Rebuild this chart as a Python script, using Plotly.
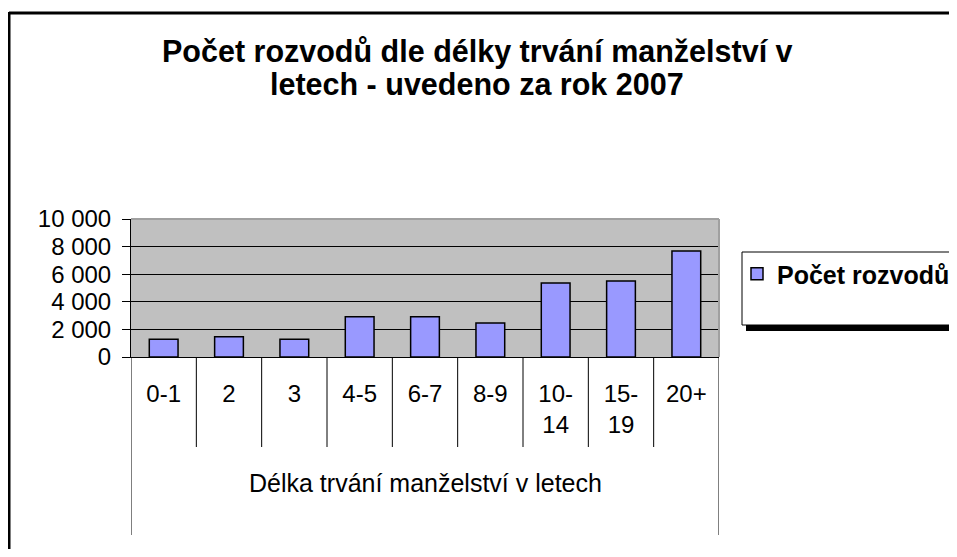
import plotly.graph_objects as go

categories = ["0-1", "2", "3", "4-5", "6-7", "8-9", "10-<br>14", "15-<br>19", "20+"]
divorces = [1280, 1470, 1280, 2920, 2920, 2460, 5360, 5500, 7680]
series_name = "Počet rozvodů"
title_lines = ["Počet rozvodů dle délky trvání manželství v", "letech - uvedeno za rok 2007"]
x_title = "Délka trvání manželství v letech"
y_ticks = [0, 2000, 4000, 6000, 8000, 10000]

FONT = "Liberation Sans, Arial, sans-serif"
OFF = 8  # page body margin
W, H = 957 - 2 * OFF, 557 - 2 * OFF
# target plot area in screenshot pixels: x 131..719, y 219..357
L, T = 131 - OFF, 219 - OFF
R, B = W - (719 - OFF), H - (357 - OFF)
PW, PH = W - L - R, H - T - B

def px(xs):
    return (xs - OFF - L) / PW

def py(ys):
    return (H - B - (ys - OFF)) / PH

fig = go.Figure()
fig.add_trace(go.Bar(
    x=list(range(len(categories))), y=divorces, name=series_name,
    marker=dict(color="#9999FF", line=dict(color="black", width=1.5)),
    showlegend=True,
))

shapes = []
# chart frame (left and top edges; the rest lies outside the picture)
shapes.append(dict(type="line", xref="paper", yref="paper",
                   x0=px(9), x1=px(1000), y0=py(13), y1=py(13),
                   line=dict(color="black", width=3), layer="below"))
shapes.append(dict(type="line", xref="paper", yref="paper",
                   x0=px(9), x1=px(9), y0=py(12), y1=py(600),
                   line=dict(color="black", width=3), layer="below"))
# plot area top/right border (gray)
shapes.append(dict(type="line", xref="paper", yref="paper", x0=0, x1=1, y0=1, y1=1,
                   line=dict(color="#A0A0A0", width=2)))
shapes.append(dict(type="line", xref="paper", yref="paper", x0=1, x1=1, y0=0, y1=1,
                   line=dict(color="#A0A0A0", width=2)))
# category boundary lines of the multi-level axis
n = len(categories)
for i in range(n + 1):
    outer = i == 0 or i == n
    shapes.append(dict(type="line", xref="x", yref="paper", x0=i - 0.5, x1=i - 0.5,
                       y0=0, y1=py(535) if outer else py(447),
                       line=dict(color="black", width=1)))
# legend box + shadow
shapes.append(dict(type="rect", xref="paper", yref="paper",
                   x0=px(746), x1=px(1000), y0=py(325), y1=py(331),
                   line=dict(width=0), fillcolor="black"))
shapes.append(dict(type="rect", xref="paper", yref="paper",
                   x0=px(742), x1=px(1000), y0=py(252), y1=py(325),
                   line=dict(color="black", width=1), fillcolor="white"))

annotations = [
    dict(text="<b>%s</b>" % title_lines[0], xref="paper", yref="paper", x=px(477), y=py(51),
         xanchor="center", yanchor="middle", showarrow=False,
         font=dict(family=FONT, size=30.5, color="black")),
    dict(text="<b>%s</b>" % title_lines[1], xref="paper", yref="paper", x=px(477), y=py(84),
         xanchor="center", yanchor="middle", showarrow=False,
         font=dict(family=FONT, size=30.5, color="black")),
    dict(text=x_title, xref="paper", yref="paper", x=0.5, y=py(483),
         xanchor="center", yanchor="middle", showarrow=False,
         font=dict(family=FONT, size=25, color="black")),
]

fig.update_layout(
    width=W, height=H,
    margin=dict(l=L, r=R, t=T, b=B, pad=0, autoexpand=False),
    paper_bgcolor="white", plot_bgcolor="#C0C0C0",
    separators=", ",
    bargap=0.56,
    font=dict(family=FONT, size=24, color="black"),
    shapes=shapes, annotations=annotations,
    legend=dict(x=px(737), y=py(251), xanchor="left", yanchor="top",
                bgcolor="rgba(0,0,0,0)", borderwidth=0,
                font=dict(family=FONT, size=25, color="black", weight="bold")),
    xaxis=dict(tickmode="array", tickvals=list(range(n)), ticktext=categories,
               range=[-0.5, n - 0.5], showline=True, linecolor="black", linewidth=1,
               ticks="", showgrid=False, zeroline=False, ticklabelstandoff=15,
               automargin=False,
               tickfont=dict(family=FONT, size=24, color="black")),
    yaxis=dict(range=[0, 10000], tickvals=y_ticks, tickformat=",d",
               ticks="outside", ticklen=8, tickcolor="black", tickwidth=1,
               showline=True, linecolor="black", linewidth=1,
               showgrid=True, gridcolor="black", gridwidth=1, zeroline=False,
               ticklabelstandoff=6, automargin=False,
               tickfont=dict(family=FONT, size=24, color="black")),
)

fig.write_html("out.html", config={"displayModeBar": False})
